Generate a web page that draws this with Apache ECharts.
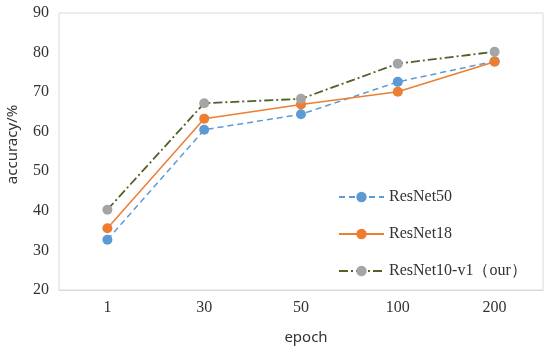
<!DOCTYPE html>
<html><head><meta charset="utf-8">
<script src="https://cdn.jsdelivr.net/npm/echarts@6/dist/echarts.min.js"></script>
<style>html,body{margin:0;padding:0;background:#fff}#c{width:550px;height:349px}</style>
</head><body><div id="c"></div>
<script>
const categories = ['1', '30', '50', '100', '200'];
const resnet50 = [32.7, 60.5, 64.4, 72.6, 77.8];
const resnet18 = [35.6, 63.3, 66.9, 70.1, 77.7];
const resnet10 = [40.3, 67.2, 68.3, 77.2, 80.2];
const seriesNames = ['ResNet50', 'ResNet18', 'ResNet10-v1（our）'];

const serif = '"Liberation Serif", "Times New Roman", serif';
const sans = '"Noto Sans", "DejaVu Sans", sans-serif';
const chart = echarts.init(document.getElementById('c'));
chart.setOption({
  animation: false,
  backgroundColor: '#fff',
  grid: { left: 59, right: 7, top: 13, bottom: 59, show: true, borderColor: '#d9d9d9', borderWidth: 1,
          containLabel: false, outerBoundsMode: 'none' },
  legend: {
    orient: 'vertical', left: 333, top: 184, itemGap: 21, itemWidth: 45, itemHeight: 13,
    textStyle: { fontFamily: serif, fontSize: 16, color: '#333' },
    data: seriesNames
  },
  xAxis: {
    type: 'category', data: categories, boundaryGap: true,
    name: 'epoch', nameLocation: 'middle', nameGap: 40,
    nameTextStyle: { fontFamily: sans, fontSize: 15, color: '#333', padding: [0, 0, 0, 10] },
    axisLine: { lineStyle: { color: '#d9d9d9' } },
    axisTick: { alignWithLabel: true, length: 5, lineStyle: { color: '#d9d9d9' } },
    axisLabel: { fontFamily: serif, fontSize: 16, color: '#333', margin: 10 }
  },
  yAxis: {
    type: 'value', min: 20, max: 90, interval: 10,
    name: 'accuracy/%', nameLocation: 'middle', nameGap: 39,
    nameTextStyle: { fontFamily: sans, fontSize: 15, color: '#333', padding: [0, 0, 0, 14] },
    axisLine: { show: false }, axisTick: { show: false }, splitLine: { show: false },
    axisLabel: { fontFamily: serif, fontSize: 16, color: '#333', margin: 10 }
  },
  series: [
    { name: seriesNames[0], type: 'line', data: resnet50, symbol: 'circle', symbolSize: 10,
      itemStyle: { color: '#5B9BD5' }, lineStyle: { color: '#5B9BD5', width: 1.5, type: [6, 4] }, z: 2 },
    { name: seriesNames[1], type: 'line', data: resnet18, symbol: 'circle', symbolSize: 10,
      itemStyle: { color: '#ED7D31' }, lineStyle: { color: '#ED7D31', width: 1.5 }, z: 3 },
    { name: seriesNames[2], type: 'line', data: resnet10, symbol: 'circle', symbolSize: 10,
      itemStyle: { color: '#A5A5A5' }, lineStyle: { color: '#4F6228', width: 1.8, type: [9, 3, 2, 3] }, z: 4 }
  ]
});
</script></body></html>
